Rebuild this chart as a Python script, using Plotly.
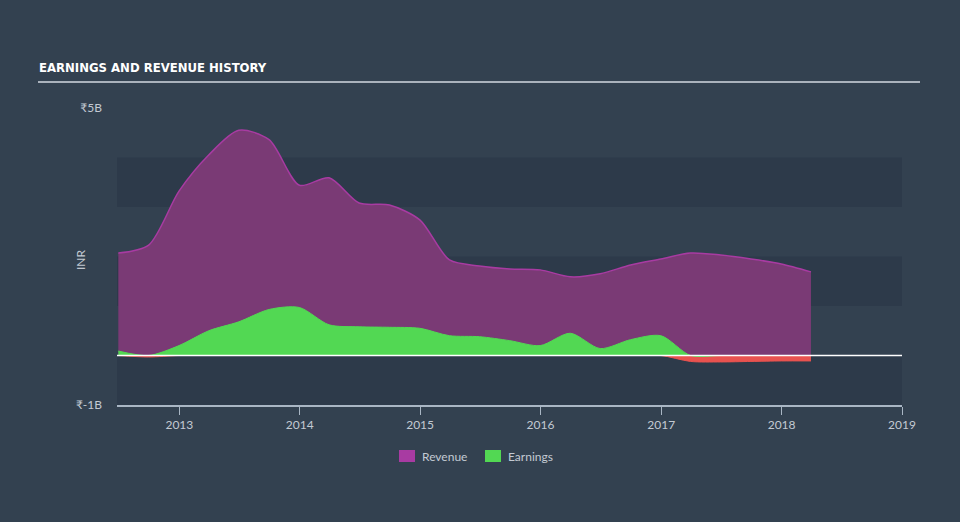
import plotly.graph_objects as go
import numpy as np

dates = ["2012-06-30", "2012-09-30", "2012-12-31", "2013-03-31", "2013-06-30", "2013-09-30",
         "2013-12-31", "2014-03-31", "2014-06-30", "2014-09-30", "2014-12-31", "2015-03-31",
         "2015-06-30", "2015-09-30", "2015-12-31", "2016-03-31", "2016-06-30", "2016-09-30",
         "2016-12-31", "2017-03-31", "2017-06-30", "2017-09-30", "2017-12-31", "2018-03-31"]
revenue = [2.07, 2.23, 3.32, 4.05, 4.55, 4.36, 3.44, 3.59, 3.08, 3.04, 2.74, 1.93,
           1.81, 1.75, 1.73, 1.59, 1.65, 1.83, 1.95, 2.07, 2.03, 1.95, 1.85, 1.69]
earnings = [0.09, -0.03, 0.20, 0.50, 0.68, 0.93, 0.97, 0.62, 0.58, 0.57, 0.55, 0.40,
            0.38, 0.30, 0.20, 0.45, 0.14, 0.32, 0.40, -0.12, -0.13, -0.12, -0.11, -0.11]
year_ticks = ["2013-01-01", "2014-01-01", "2015-01-01", "2016-01-01", "2017-01-01",
              "2018-01-01", "2019-01-01"]
year_labels = ["2013", "2014", "2015", "2016", "2017", "2018", "2019"]
y_ticks = [-1, 5]
y_labels = ["₹-1B", "₹5B"]
bands = [(-1, 0), (1, 2), (3, 4)]
legend_names = ["Revenue", "Earnings"]
legend_colors = ["#a83ba2", "#52d853"]

BG = "#334150"
BAND = "#2d3a4a"
TXT = "#c3cad3"
FONT = "Lato"

L, R, T, B, W, H = 117, 58, 108, 117, 960, 522
PW, PH = W - L - R, H - T - B


def px(x):
    return (x - L) / PW


def py(y):
    return (H - B - y) / PH


e = np.array(earnings)
e_pos = np.clip(e, 0, None)
e_neg = np.clip(e, None, 0)

fig = go.Figure()
fig.add_trace(go.Scatter(x=dates, y=revenue, name="Revenue", mode="lines",
                         line=dict(color="#a83ba2", width=1.5, shape="spline", smoothing=0.8),
                         fill="tozeroy", fillcolor="#7a3a75"))
fig.add_trace(go.Scatter(x=dates, y=e_neg, name="Loss", mode="lines",
                         line=dict(color="#e8524f", width=1, shape="spline", smoothing=0.8),
                         fill="tozeroy", fillcolor="#e8524f"))
fig.add_trace(go.Scatter(x=dates, y=e_pos, name="Earnings", mode="lines",
                         line=dict(color="#52d853", width=1, shape="spline", smoothing=0.8),
                         fill="tozeroy", fillcolor="#52d853"))

shapes = []
for lo, hi in bands:
    shapes.append(dict(type="rect", xref="paper", yref="y", x0=0, x1=1, y0=lo, y1=hi,
                       fillcolor=BAND, line=dict(width=0), layer="below"))
shapes.append(dict(type="line", xref="paper", yref="y", x0=0, x1=1, y0=0, y1=0,
                   line=dict(color="#ffffff", width=1.5), layer="above"))
shapes.append(dict(type="line", xref="paper", yref="paper", x0=px(38), x1=px(920),
                   y0=py(82), y1=py(82), line=dict(color="#aab2bc", width=2)))

annotations = [
    dict(text="<b>EARNINGS AND REVENUE HISTORY</b>", xref="paper", yref="paper",
         x=px(37), y=py(68), xanchor="left", yanchor="middle", showarrow=False,
         font=dict(color="#ffffff", size=13, family="DejaVu Sans Condensed")),
    dict(text="INR", xref="paper", yref="paper", x=px(80), y=py(260),
         xanchor="center", yanchor="middle", showarrow=False, textangle=-90,
         font=dict(color=TXT, size=12, family=FONT)),
]

# manual legend
leg_x = [399, 485]
for name, col, x0 in zip(legend_names, legend_colors, leg_x):
    shapes.append(dict(type="rect", xref="paper", yref="paper", x0=px(x0), x1=px(x0 + 16),
                       y0=py(462), y1=py(450), fillcolor=col, line=dict(width=0)))
    annotations.append(dict(text=name, xref="paper", yref="paper", x=px(x0 + 21), y=py(456),
                            xanchor="left", yanchor="middle", showarrow=False,
                            font=dict(color=TXT, size=12, family=FONT)))

fig.update_layout(
    width=W, height=H,
    paper_bgcolor=BG, plot_bgcolor=BG,
    margin=dict(l=L, r=R, t=T, b=B),
    shapes=shapes,
    annotations=annotations,
    showlegend=False,
    xaxis=dict(type="date", range=["2012-06-26", "2019-01-01"], tickvals=year_ticks,
               ticktext=year_labels, showgrid=False, zeroline=False, showline=True,
               linecolor="#a9b6c4", linewidth=1.5, ticks="outside", ticklen=8,
               tickcolor="#a9b6c4", tickfont=dict(color=TXT, size=12, family=FONT)),
    yaxis=dict(range=[-1, 5], tickvals=y_ticks, ticktext=y_labels, showgrid=False,
               zeroline=False, showline=False, ticks="", ticklabelstandoff=14,
               tickfont=dict(color=TXT, size=12, family=FONT)),
)

fig.write_html("out.html")
